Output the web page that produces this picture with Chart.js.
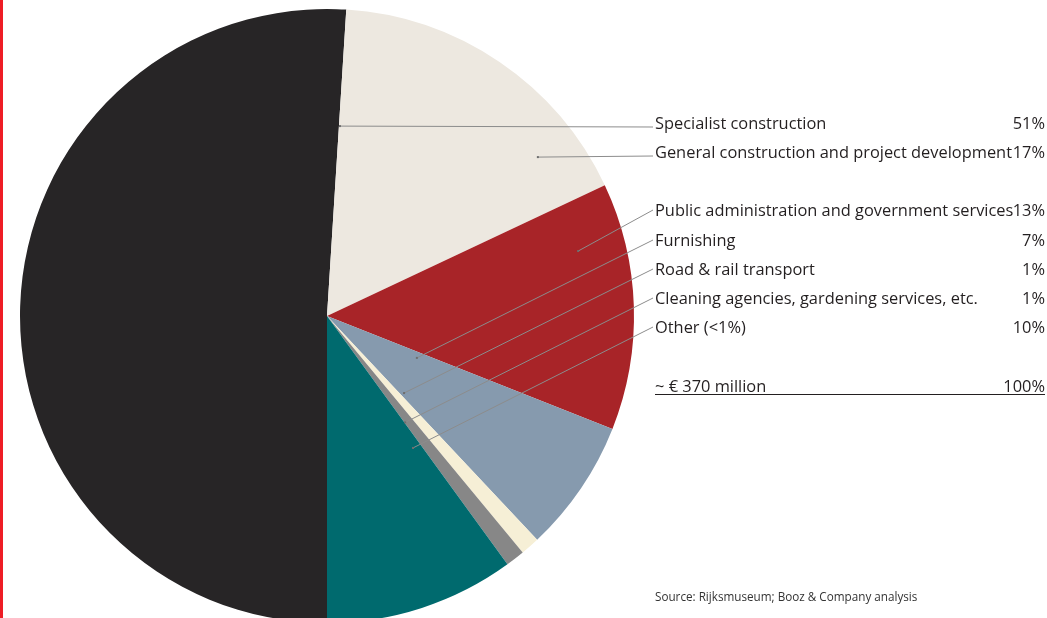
<!DOCTYPE html>
<html>
<head>
<meta charset="utf-8">
<script src="https://cdn.jsdelivr.net/npm/chart.js@4"></script>
<style>
  html, body { margin: 0; padding: 0; background: #fff; overflow: hidden; }
  #wrap { position: relative; width: 1047px; height: 640px; }
  #redbar { position: absolute; left: 0; top: 0; width: 3px; height: 618px; background: #ee1c25; z-index: 2; }
</style>
</head>
<body>
<div id="wrap">
  <div id="redbar"></div>
  <canvas id="pie-chart"></canvas>
</div>
<script>
const sectors = [
  'Specialist construction',
  'General construction and project development',
  'Public administration and government services',
  'Furnishing',
  'Road & rail transport',
  'Cleaning agencies, gardening services, etc.',
  'Other (<1%)'
]
const shares = [51, 17, 13, 7, 1, 1, 10]
const totalMillions = 370
const sourceNote = 'Source: Rijksmuseum; Booz & Company analysis'

const sliceColors = ['#272526', '#ede8e0', '#a82428', '#869aae', '#f6efd6', '#878787', '#006a6e']

// where each leader line starts inside the pie: [angle from top in deg, fraction of radius]
const anchors = [[3.9, 0.62], [53, 0.86], [75.5, 0.845], [115, 0.323], [135, 0.355], [143.7, 0.43], [146.9, 0.513]]
const rowY = [124, 153, 211, 241, 270, 299, 328]
const totalY = 387

const FONT = '"Open Sans", "Noto Sans", sans-serif'

const labelPanel = {
  id: 'labelPanel',
  afterDraw(chart) {
    const ctx = chart.ctx
    const arc = chart.getDatasetMeta(0).data[0]
    const cx = arc.x, cy = arc.y, r = arc.outerRadius
    const textX = 655, rightX = 1045

    ctx.save()
    // leader lines
    ctx.strokeStyle = '#8c8c8c'
    ctx.fillStyle = '#6e6e6e'
    ctx.lineWidth = 1
    anchors.forEach((a, i) => {
      const th = a[0] * Math.PI / 180
      const x0 = cx + r * a[1] * Math.sin(th)
      const y0 = cy - r * a[1] * Math.cos(th)
      const y1 = i < 2 ? rowY[i] + 3 : rowY[i] - 1
      ctx.beginPath()
      ctx.moveTo(x0, y0)
      ctx.lineTo(textX - 2, y1)
      ctx.stroke()
      ctx.fillRect(x0 - 1, y0 - 1, 2, 2)
    })

    // labels and values
    ctx.fillStyle = '#231f20'
    ctx.font = '16.4px ' + FONT
    ctx.textBaseline = 'middle'
    sectors.forEach((s, i) => {
      ctx.textAlign = 'left'
      ctx.fillText(s, textX, rowY[i])
      ctx.textAlign = 'right'
      ctx.fillText(shares[i] + '%', rightX, rowY[i])
    })

    // total row, underlined
    const sum = shares.reduce((a, b) => a + b, 0)
    ctx.textAlign = 'left'
    ctx.fillText('~ € ' + totalMillions + ' million', textX, totalY)
    ctx.textAlign = 'right'
    ctx.fillText(sum + '%', rightX, totalY)
    ctx.strokeStyle = '#231f20'
    ctx.beginPath()
    ctx.moveTo(textX, totalY + 7.5)
    ctx.lineTo(rightX, totalY + 7.5)
    ctx.stroke()

    // source
    ctx.font = '11.7px ' + FONT
    ctx.fillStyle = '#333'
    ctx.textAlign = 'left'
    ctx.fillText(sourceNote, textX, 598)
    ctx.restore()
  }
}

new Chart(document.getElementById('pie-chart'), {
  type: 'pie',
  data: {
    labels: sectors,
    datasets: [{
      data: shares,
      backgroundColor: sliceColors,
      borderWidth: 0
    }]
  },
  options: {
    responsive: true,
    maintainAspectRatio: false,
    animation: false,
    rotation: 180,
    layout: { padding: { left: 20, right: 413, top: 9, bottom: 17 } },
    plugins: {
      legend: { display: false },
      tooltip: { enabled: false }
    }
  },
  plugins: [labelPanel]
})
</script>
</body>
</html>
